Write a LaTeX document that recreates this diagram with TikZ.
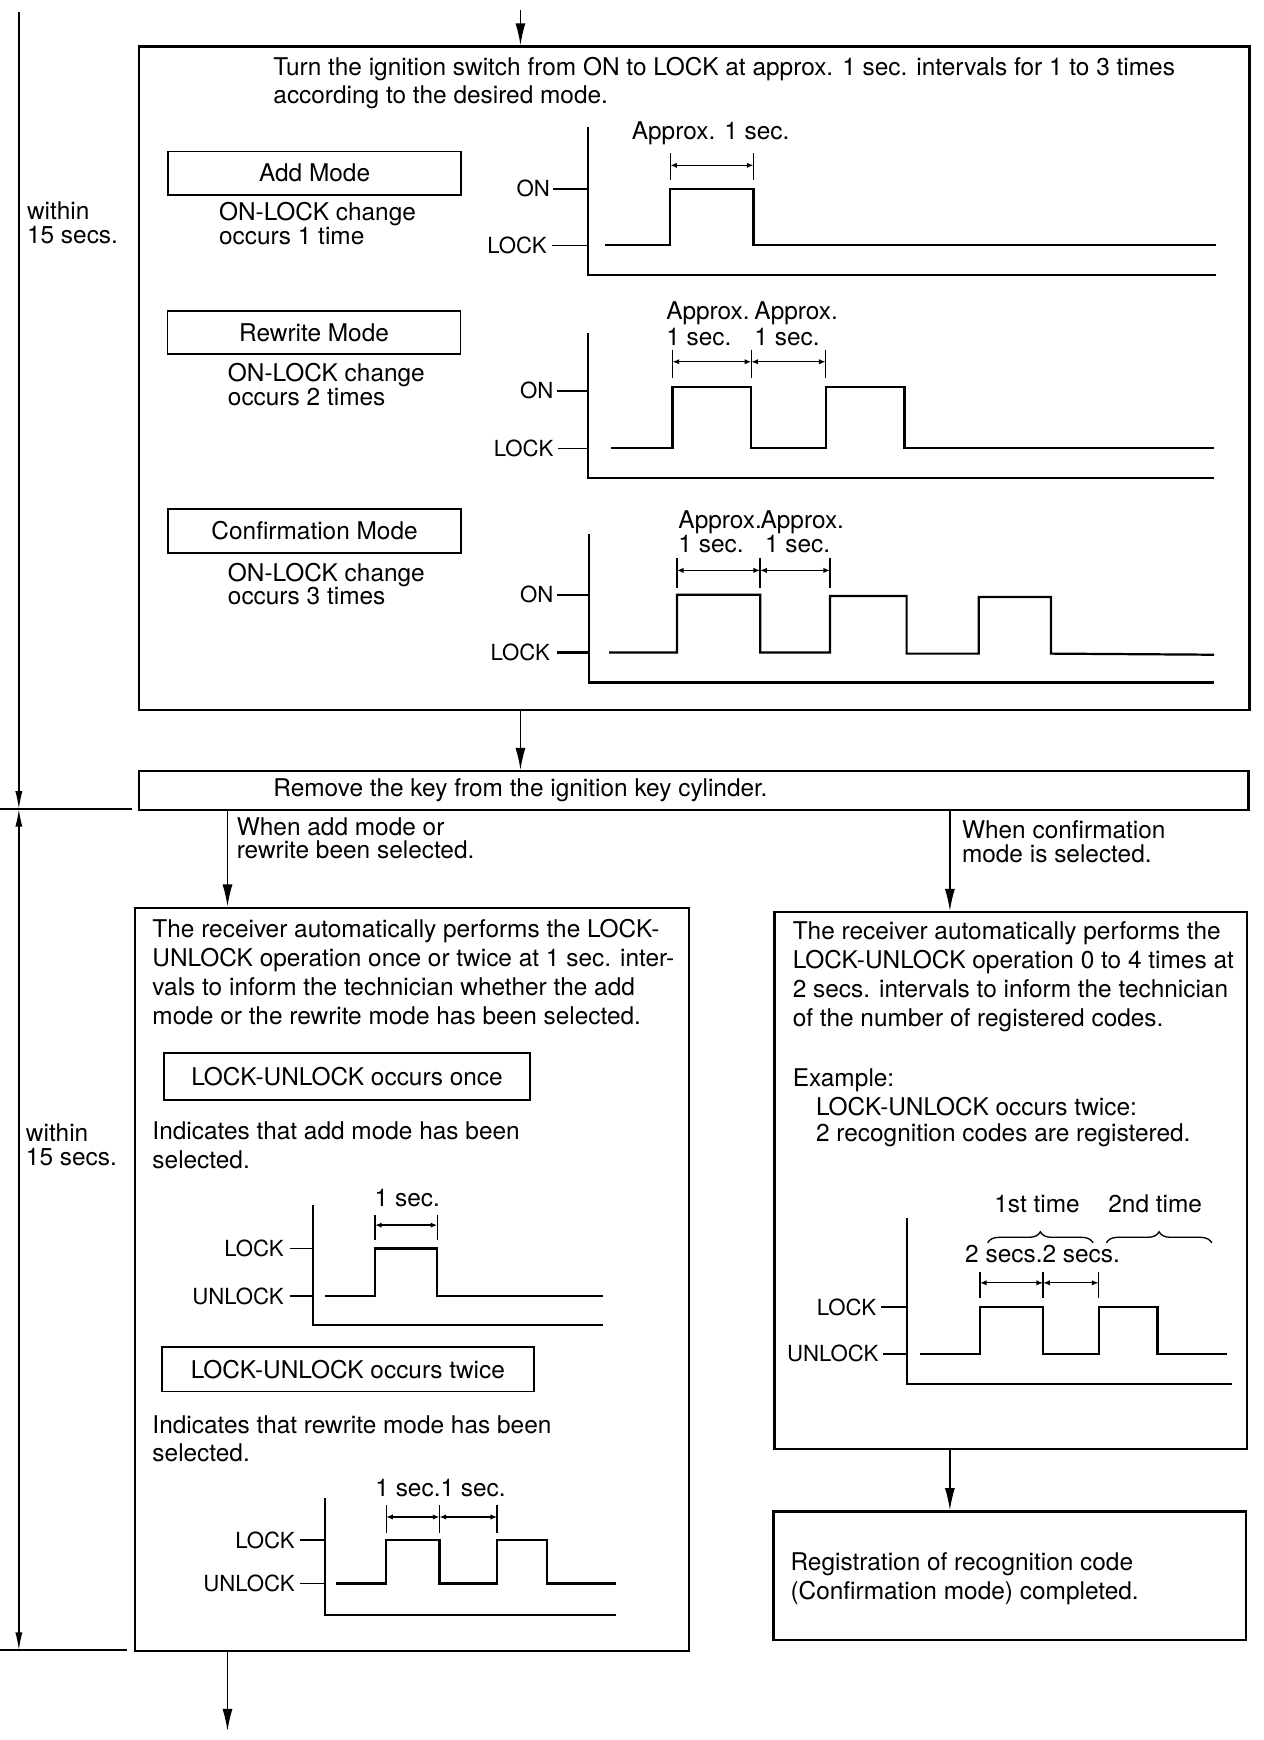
\documentclass[tikz,border=0pt]{standalone}
\usepackage{fontspec}
\setmainfont{TeX Gyre Heros}
\usetikzlibrary{arrows.meta,positioning,fit,decorations.pathreplacing}

\begin{document}
\begin{tikzpicture}[
        x=0.5pt, y=-0.5pt,
        frame/.style={draw,line width=1pt,inner sep=0pt},
        modebox/.style={draw,line width=0.8pt,inner sep=0pt,minimum width=132pt,minimum height=19.5pt,font=\fontsize{11}{13}\selectfont},
        txt/.style={anchor=base west,inner sep=0pt,align=left,font=\fontsize{11}{#1}\selectfont},
        txt/.default=13,
        lbl/.style={anchor=east,inner sep=0pt,font=\fontsize{10}{12}\selectfont},
        sig/.style={line width=1pt},
        tick/.style={line width=0.6pt},
        dim/.style={{Latex[length=3pt,width=2.4pt]}-{Latex[length=3pt,width=2.4pt]},line width=0.6pt},
        arrow/.style={-{Latex[length=10pt,width=4.5pt]},line width=0.7pt},
        span/.style={line width=0.6pt},
        stip/.tip={Latex[length=8pt,width=3.2pt]},
        brace/.style={decorate,decoration={brace,amplitude=5pt},line width=0.6pt}
    ]
        \useasboundingbox (0,0) rectangle (1139,1568);

        % boxes
        \node[frame, fit={(125,42) (1126,640)}] (ignbox) {};
        \node[frame, fit={(125,695) (1125,730)}] (removebox) {};
        \node[frame, fit={(122,818) (621,1488)}] (addbox) {};
        \node[frame, fit={(698,822) (1124,1306)}] (confbox) {};
        \node[frame, fit={(697,1362) (1123,1478)}] (donebox) {};

        % arrows between boxes
        \coordinate (start) at (469,9);
        \coordinate (addx) at (205,760);
        \coordinate (confx) at (856,760);
        \coordinate (finish) at (205,1560);
        \draw[arrow] (start) -- (start |- ignbox.north);
        \draw[arrow] (start |- ignbox.south) -- (start |- removebox.north);
        \draw[arrow] (addx |- removebox.south) -- (addx |- addbox.north);
        \draw[arrow] (confx |- removebox.south) -- (confx |- confbox.north);
        \draw[arrow] (confx |- confbox.south) -- (confx |- donebox.north);
        \draw[arrow] (finish |- addbox.south) -- (finish);

        % time bars on the left (multi-line texts sit on their last baseline)
        \coordinate (t0) at (17,11);
        \coordinate (t1) at (17,729);
        \coordinate (t2) at (17,1487);
        \draw[span,-stip] (t0) -- (t1);
        \draw[span,stip-stip] (t1) -- (t2);
        \draw[span] (0,729) -- (119,729);
        \draw[line width=1pt] (0,1487) -- (114,1487);
        \node[txt=10.5] (within1) at (24,219) {within\\15 secs.};
        \node[txt=10.5] (within2) at (23,1050) {within\\15 secs.};

        % ignition switch step
        \node[txt=12.5] (turntxt) at (246,93) {Turn the ignition switch from ON to LOCK at approx. 1 sec. intervals for 1 to 3 times\\according to the desired mode.};
        \node[modebox] (addmode) at (283.5,156) {Add Mode};
        \node[modebox] (rwmode) at (283,299.5) {Rewrite Mode};
        \node[modebox] (cfmode) at (283.5,478.5) {Confirmation Mode};
        \node[txt=10.5] (adddesc) at (197,220) {ON-LOCK change\\occurs 1 time};
        \node[txt=10.5] (rwdesc) at (205,365) {ON-LOCK change\\occurs 2 times};
        \node[txt=10.5] (cfdesc) at (205,545) {ON-LOCK change\\occurs 3 times};

        % add mode chart
        \node[lbl] (on1) at (496,170) {ON};
        \node[lbl] (lock1) at (493,221) {LOCK};
        \draw[sig] (530,114) -- (530,248) -- (1096,248);
        \draw[sig] (498,170) -- (530,170);
        \draw[tick] (497,221) -- (530,221);
        \draw[sig] (545,221) -- (604,221) -- (604,170) -- (679,170) -- (679,221) -- (1096,221);
        \draw[tick] (604,138) -- (604,162) (679,138) -- (679,162);
        \draw[dim] (604,149) -- (679,149);
        \node[txt] (sec1) at (569,126) {Approx. 1 sec.};

        % rewrite mode chart
        \node[lbl] (on2) at (499,352) {ON};
        \node[lbl] (lock2) at (499,404) {LOCK};
        \draw[sig] (530,300) -- (530,431) -- (1094,431);
        \draw[sig] (502,352) -- (530,352);
        \draw[tick] (503,404) -- (530,404);
        \draw[sig] (551,404) -- (606,404) -- (606,349) -- (677,349) -- (677,404) -- (744,404)
            -- (744,349) -- (815,349) -- (815,404) -- (1094,404);
        \draw[tick] (606,315) -- (606,341) (677,315) -- (677,341) (744,315) -- (744,341);
        \draw[dim] (606,326) -- (677,326);
        \draw[dim] (677,326) -- (744,326);
        \node[txt=11.5] (sec2a) at (600,311) {Approx.\\1 sec.};
        \node[txt=11.5] (sec2b) at (679.5,311) {Approx.\\1 sec.};

        % confirmation mode chart
        \node[lbl] (on3) at (499,536) {ON};
        \node[lbl] (lock3) at (496,588) {LOCK};
        \draw[sig] (531,481) -- (531,615) -- (1094,615);
        \draw[sig] (502,536) -- (531,536);
        \draw[sig] (502,588) -- (531,588);
        \draw[sig] (549,588) -- (610,588) -- (610,536) -- (685,536) -- (685,588) -- (748,588)
            -- (748,537) -- (817,537) -- (817,589) -- (882,589) -- (882,538) -- (947,538)
            -- (947,589) -- (1094,590);
        \draw[tick] (610,503) -- (610,530) (685,503) -- (685,530) (748,503) -- (748,530);
        \draw[dim] (610,514) -- (685,514);
        \draw[dim] (685,514) -- (748,514);
        \node[txt=11] (sec3a) at (611,498) {Approx.\\1 sec.};
        \node[txt=11] (sec3b) at (685,498) {Approx.\\\hspace*{2pt}1 sec.};

        % remove key step
        \node[txt] (removetxt) at (246,718) {Remove the key from the ignition key cylinder.};
        \node[txt=10.5] (whenadd) at (213,773.5) {When add mode or\\rewrite been selected.};
        \node[txt=10.5] (whenconf) at (866.5,777) {When confirmation\\mode is selected.};

        % add / rewrite result
        \node[txt] (addtxt) at (137,923) {The receiver automatically performs the LOCK-\\UNLOCK operation once or twice at 1 sec. inter-\\vals to inform the technician whether the add\\mode or the rewrite mode has been selected.};
        \node[modebox, minimum width=164.75pt, minimum height=21pt] (oncebox) at (312.75,970) {LOCK-UNLOCK occurs once};
        \node[txt] (oncetxt) at (137,1053) {Indicates that add mode has been\\selected.};
        \node[lbl] (lock4) at (256,1125) {LOCK};
        \node[lbl] (unlock4) at (256,1168) {UNLOCK};
        \draw[sig] (282,1086) -- (282,1194) -- (543,1194);
        \draw[tick] (261,1125) -- (282,1125) (261,1168) -- (282,1168);
        \draw[sig] (293,1168) -- (338,1168) -- (338,1125) -- (394,1125) -- (394,1168) -- (543,1168);
        \draw[tick] (338,1095) -- (338,1117) (394,1095) -- (394,1117);
        \draw[dim] (338,1104) -- (394,1104);
        \node[txt, anchor=base] (sec4) at (367,1087) {1 sec.};

        \node[modebox, minimum width=167.5pt, minimum height=20pt] (twicebox) at (313.5,1234) {LOCK-UNLOCK occurs twice};
        \node[txt=12.5] (twicetxt) at (137,1317) {Indicates that rewrite mode has been\\selected.};
        \node[lbl] (lock5) at (266,1388) {LOCK};
        \node[lbl] (unlock5) at (266,1427) {UNLOCK};
        \draw[sig] (293,1350) -- (293,1455) -- (555,1455);
        \draw[sig] (270,1388) -- (293,1388);
        \draw[tick] (270,1427) -- (293,1427);
        \draw[sig] (303,1427) -- (348,1427) -- (348,1388) -- (396,1388) -- (396,1427) -- (448,1427)
            -- (448,1388) -- (493,1388) -- (493,1427) -- (555,1427);
        \draw[tick] (348,1356) -- (348,1381) (396,1356) -- (396,1381) (448,1356) -- (448,1381);
        \draw[dim] (348,1367) -- (396,1367);
        \draw[dim] (396,1367) -- (448,1367);
        \node[txt, anchor=base] (sec5) at (397,1349) {1 sec.1 sec.};

        % confirmation result
        \node[txt] (conftxt) at (714,925) {The receiver automatically performs the\\LOCK-UNLOCK operation 0 to 4 times at\\2 secs. intervals to inform the technician\\of the number of registered codes.};
        \node[txt] (example) at (714,979) {Example:};
        \node[txt=12] (extxt) at (735,1029) {LOCK-UNLOCK occurs twice:\\2 recognition codes are registered.};
        \node[lbl] (lock6) at (790,1178) {LOCK};
        \node[lbl] (unlock6) at (792,1220) {UNLOCK};
        \draw[sig] (817,1098) -- (817,1247) -- (1110,1247);
        \draw[sig] (794,1178) -- (817,1178);
        \draw[tick] (796,1220) -- (817,1220);
        \draw[sig] (829,1220) -- (883,1220) -- (883,1178) -- (940,1178) -- (940,1220) -- (990,1220)
            -- (990,1178) -- (1043,1178) -- (1043,1220) -- (1106,1220);
        \draw[tick] (883,1146) -- (883,1170) (940,1146) -- (940,1170) (990,1146) -- (990,1170);
        \draw[dim] (883,1156) -- (940,1156);
        \draw[dim] (940,1156) -- (990,1156);
        \node[txt, anchor=base] (sec6) at (939.5,1138) {2 secs.2 secs.};
        \draw[brace] (890,1120) -- (985,1120);
        \draw[brace] (997,1120) -- (1092,1120);
        \node[txt, anchor=base] (first) at (934.5,1093) {1st time};
        \node[txt, anchor=base] (second) at (1041,1093) {2nd time};

        \node[txt] (donetxt) at (712,1441) {Registration of recognition code\\(Confirmation mode) completed.};
    \end{tikzpicture}
\end{document}
